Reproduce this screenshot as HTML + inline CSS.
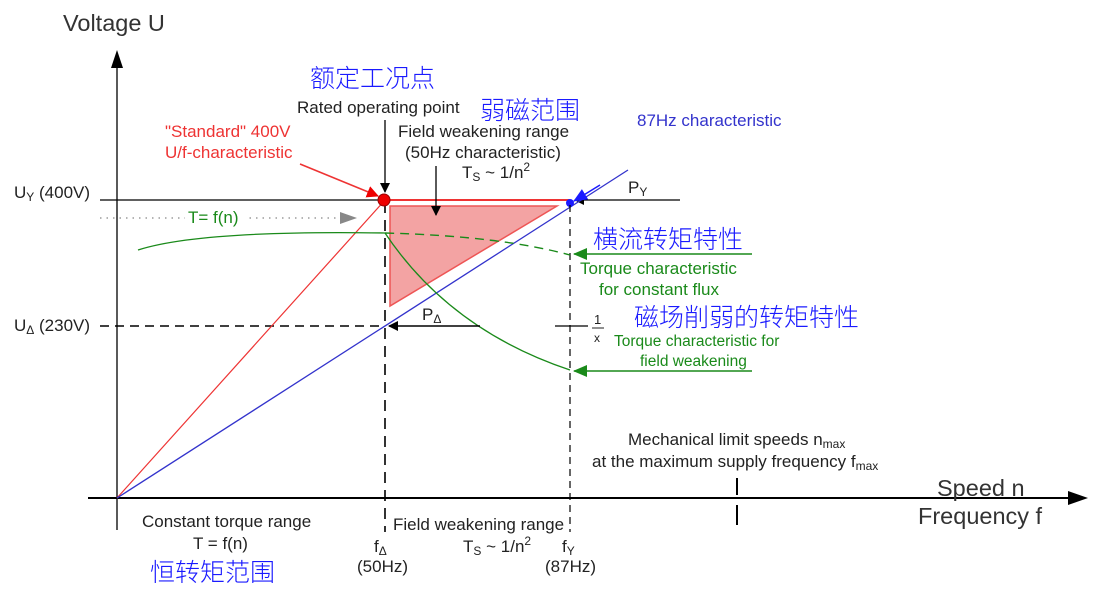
<!DOCTYPE html>
<html><head><meta charset="utf-8"><style>
html,body{margin:0;padding:0;background:#fff;width:1105px;height:592px;overflow:hidden}
svg text{font-family:"Liberation Sans","Noto Sans CJK SC",sans-serif}
.cn{font-family:"Liberation Sans","Noto Sans CJK SC",sans-serif;fill:#1a1aff;font-size:25px;font-weight:300}
</style></head><body>
<svg width="1105" height="592" viewBox="0 0 1105 592" xmlns="http://www.w3.org/2000/svg">
<defs>
<marker id="ab" markerWidth="10" markerHeight="10" refX="9" refY="5" orient="auto" markerUnits="userSpaceOnUse"><path d="M0,0 L10,5 L0,10 z" fill="#000"/></marker>
<marker id="ar" markerWidth="12" markerHeight="12" refX="11" refY="6" orient="auto" markerUnits="userSpaceOnUse"><path d="M0,0 L12,6 L0,12 z" fill="#e00"/></marker>
<marker id="ag" markerWidth="14" markerHeight="12" refX="13" refY="6" orient="auto" markerUnits="userSpaceOnUse"><path d="M0,0 L14,6 L0,12 z" fill="#1a8a1a"/></marker>
<marker id="abl" markerWidth="14" markerHeight="12" refX="13" refY="6" orient="auto" markerUnits="userSpaceOnUse"><path d="M0,0 L14,6 L0,12 z" fill="#1a1aff"/></marker>
</defs>
<line x1="117" y1="530" x2="117" y2="62" stroke="#000" stroke-width="1.3"/>
<path d="M111,68 L117,50 L123,68 z" fill="#000"/>
<line x1="88" y1="498" x2="1070" y2="498" stroke="#000" stroke-width="2"/>
<path d="M1068,491 L1088,498 L1068,505 z" fill="#000"/>
<text x="63" y="31" font-size="23.5" fill="#333">Voltage U</text>
<text x="937" y="496" font-size="23.5" fill="#333">Speed n</text>
<text x="918" y="524" font-size="23.5" fill="#333">Frequency f</text>
<line x1="100" y1="200" x2="385" y2="200" stroke="#000" stroke-width="1.3"/>
<line x1="385" y1="200" x2="570" y2="200" stroke="#e33" stroke-width="2"/>
<line x1="680" y1="200" x2="575" y2="200" stroke="#000" stroke-width="1.3" marker-end="url(#ab)"/>
<text x="628" y="193" font-size="17" fill="#222">P<tspan font-size="12" dy="3">Y</tspan></text>
<line x1="100" y1="326" x2="385" y2="326" stroke="#000" stroke-width="1.5" stroke-dasharray="9,6"/>
<line x1="100" y1="218" x2="340" y2="218" stroke="#888" stroke-width="1.2" stroke-dasharray="1.5,5"/>
<path d="M340,212 L357,218 L340,224 z" fill="#888"/>
<rect x="185" y="206" width="62" height="20" fill="#fff"/>
<text x="188" y="223" font-size="17" fill="#1a8a1a">T= f(n)</text>
<text x="14" y="198" font-size="17" fill="#222">U<tspan font-size="12" dy="3">Y</tspan><tspan dy="-3"> (400V)</tspan></text>
<text x="14" y="331" font-size="17" fill="#222">U<tspan font-size="12" dy="3">Δ</tspan><tspan dy="-3"> (230V)</tspan></text>
<path d="M390,206 L557,206 L390,306 z" fill="#f3a3a3" stroke="#e55" stroke-width="1.5"/>
<line x1="117" y1="498" x2="385" y2="200" stroke="#e33" stroke-width="1.2"/>
<line x1="117" y1="498" x2="628" y2="170" stroke="#33c" stroke-width="1.3"/>
<line x1="600" y1="185" x2="574" y2="201" stroke="#1a1aff" stroke-width="1.5" marker-end="url(#abl)"/>
<circle cx="570" cy="203" r="4" fill="#1a1aff"/>
<line x1="385" y1="202" x2="385" y2="532" stroke="#000" stroke-width="1.6" stroke-dasharray="11,7"/>
<line x1="570" y1="205" x2="570" y2="532" stroke="#000" stroke-width="1.2" stroke-dasharray="7,5"/>
<line x1="737" y1="478" x2="737" y2="495" stroke="#000" stroke-width="2"/>
<line x1="737" y1="505" x2="737" y2="525" stroke="#000" stroke-width="2"/>
<path d="M138,250 Q200,230 385,233" fill="none" stroke="#1a8a1a" stroke-width="1.3"/>
<path d="M385,233 Q500,236 570,255" fill="none" stroke="#1a8a1a" stroke-width="1.4" stroke-dasharray="9,6"/>
<path d="M385,233 Q450,330 570,370" fill="none" stroke="#1a8a1a" stroke-width="1.3"/>
<line x1="752" y1="254" x2="574" y2="254" stroke="#1a8a1a" stroke-width="1.5" marker-end="url(#ag)"/>
<line x1="752" y1="371" x2="574" y2="371" stroke="#1a8a1a" stroke-width="1.5" marker-end="url(#ag)"/>
<line x1="480" y1="326" x2="389" y2="326" stroke="#000" stroke-width="1.5" marker-end="url(#ab)"/>
<text x="422" y="320" font-size="17" fill="#222">P<tspan font-size="12" dy="3">Δ</tspan></text>
<line x1="555" y1="326" x2="588" y2="326" stroke="#000" stroke-width="1.3"/>
<text x="594" y="324" font-size="13" fill="#222">1</text>
<line x1="592" y1="328" x2="604" y2="328" stroke="#222" stroke-width="1"/>
<text x="594" y="342" font-size="12" fill="#222">x</text>
<line x1="385" y1="120" x2="385" y2="192" stroke="#000" stroke-width="1.3" marker-end="url(#ab)"/>
<line x1="436" y1="166" x2="436" y2="215" stroke="#000" stroke-width="1.3" marker-end="url(#ab)"/>
<line x1="300" y1="164" x2="378" y2="196" stroke="#e33" stroke-width="1.5" marker-end="url(#ar)"/>
<circle cx="384" cy="200" r="6" fill="#e00" stroke="#900" stroke-width="1"/>
<text x="310" y="87" class="cn">额定工况点</text>
<text x="480" y="119" class="cn">弱磁范围</text>
<text x="593" y="248" class="cn">横流转矩特性</text>
<text x="634" y="326" class="cn">磁场削弱的转矩特性</text>
<text x="150" y="581" class="cn">恒转矩范围</text>
<text x="297" y="113" font-size="17" fill="#222">Rated operating point</text>
<text x="165" y="137" font-size="17" fill="#e33">"Standard" 400V</text>
<text x="165" y="158" font-size="17" fill="#e33">U/f-characteristic</text>
<text x="398" y="137" font-size="17" fill="#222">Field weakening range</text>
<text x="405" y="158" font-size="17" fill="#222">(50Hz characteristic)</text>
<text x="462" y="178" font-size="17" fill="#222">T<tspan font-size="12" dy="3">S</tspan><tspan dy="-3"> ~ 1/n</tspan><tspan font-size="12" dy="-7">2</tspan></text>
<text x="637" y="126" font-size="17" fill="#33c">87Hz characteristic</text>
<text x="580" y="274" font-size="17" fill="#1a8a1a">Torque characteristic</text>
<text x="599" y="295" font-size="17" fill="#1a8a1a">for constant flux</text>
<text x="614" y="346" font-size="15.5" fill="#1a8a1a">Torque characteristic for</text>
<text x="640" y="366" font-size="15.5" fill="#1a8a1a">field weakening</text>
<text x="628" y="445" font-size="17" fill="#222">Mechanical limit speeds n<tspan font-size="12" dy="3">max</tspan></text>
<text x="592" y="467" font-size="17" fill="#222">at the maximum supply frequency f<tspan font-size="12" dy="3">max</tspan></text>
<text x="142" y="527" font-size="17" fill="#222">Constant torque range</text>
<text x="193" y="549" font-size="17" fill="#222">T = f(n)</text>
<text x="393" y="530" font-size="17" fill="#222">Field weakening range</text>
<text x="463" y="552" font-size="17" fill="#222">T<tspan font-size="12" dy="3">S</tspan><tspan dy="-3"> ~ 1/n</tspan><tspan font-size="12" dy="-7">2</tspan></text>
<text x="374" y="552" font-size="17" fill="#222">f<tspan font-size="12" dy="3">Δ</tspan></text>
<text x="357" y="572" font-size="17" fill="#222">(50Hz)</text>
<text x="562" y="552" font-size="17" fill="#222">f<tspan font-size="12" dy="3">Y</tspan></text>
<text x="545" y="572" font-size="17" fill="#222">(87Hz)</text>
</svg>
</body></html>
